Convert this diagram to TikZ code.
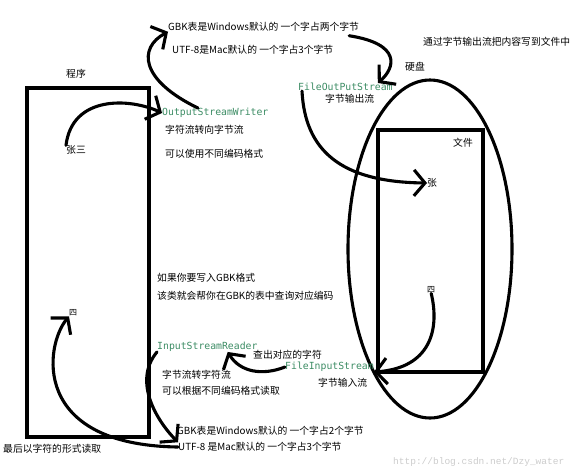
\documentclass[tikz,border=0pt]{standalone}
\usepackage{fontspec}
\setmainfont{Liberation Sans}
\newfontfamily\cjk{Noto Sans CJK SC}
\newfontfamily\codefont{DejaVu Sans Mono}
\newfontfamily\wmfont{Liberation Mono}
\usetikzlibrary{arrows.meta,shapes.geometric}
\definecolor{codegreen}{RGB}{60,140,100}
\tikzset{
  txt/.style={font=\cjk\fontsize{9.8}{11}\selectfont, inner sep=0pt, anchor=west},
  code/.style={font=\codefont\fontsize{9.8}{11}\selectfont, text=codegreen, inner sep=0pt, anchor=west},
  pen/.style={line width=3.1pt, line cap=round},
  hand/.style={pen, -{Straight Barb[length=11pt,width=26pt]}},
}
\begin{document}
\begin{tikzpicture}[x=1pt,y=-1pt]
\useasboundingbox (0,0) rectangle (572,472);
\node[draw, pen, minimum width=122pt, minimum height=349pt, inner sep=0pt] (prg) at (88,262.5) {};
\node[draw, pen, ellipse, minimum width=164pt, minimum height=338pt, inner sep=0pt] (disk) at (430,249) {};
\node[draw, pen, minimum width=105pt, minimum height=242pt, inner sep=0pt] (file) at (430.5,251) {};
\node[txt] (prog) at (66,74) {程序};
\node[txt] (zs) at (66,150) {张三};
\node[txt, font=\cjk\fontsize{8}{9}\selectfont] (si2) at (69,313) {四};
\node[code] (osw) at (162,113) {OutputStreamWriter};
\node[txt] (osw1) at (165,130) {字符流转向字节流};
\node[txt] (osw2) at (165,154) {可以使用不同编码格式};
\node[txt] (gbk) at (168,27) {GBK表是Windows默认的 一个字占两个字节};
\node[txt] (utf) at (172,50) {UTF-8是Mac默认的 一个字占3个字节};
\node[txt] (note) at (423,42) {通过字节输出流把内容写到文件中};
\node[txt] (disklbl) at (405,67) {硬盘};
\node[code] (fos) at (298,87) {FileOutPutStream};
\node[txt] (fos1) at (325,99) {字节输出流};
\node[txt] (filelbl) at (453,143) {文件};
\node[txt] (zhang) at (427,183) {张};
\node[txt, font=\cjk\fontsize{8}{9}\selectfont] (si) at (427,290) {四};
\node[txt] (gbkq1) at (157,278) {如果你要写入GBK格式};
\node[txt] (gbkq2) at (157,296) {该类就会帮你在GBK的表中查询对应编码};
\node[code] (isr) at (157,347) {InputStreamReader};
\node[txt] (isr1) at (162,375) {字节流转字符流};
\node[txt] (isr2) at (162,391) {可以根据不同编码格式读取};
\node[txt] (lookup) at (253,355) {查出对应的字符};
\node[code] (fis) at (285,367) {FileInputStream};
\node[txt] (fis1) at (318,383) {字节输入流};
\node[txt] (gbk2) at (177,431) {GBK表是Windows默认的 一个字占2个字节};
\node[txt] (utf2) at (178,447) {UTF-8 是Mac默认的 一个字占3个字节};
\node[txt] (last) at (3,449) {最后以字符的形式读取};
\node[txt, font=\wmfont\fontsize{9.5}{11}\selectfont, text=gray!40] (wm) at (393,462) {http://blog.csdn.net/Dzy\_water};
\draw[hand] (zs.north west) .. controls (72,95) and (130,98) .. (osw.west);
\draw[hand] ([xshift=36pt]osw.north west) .. controls (140,80) and (138,48) .. (gbk.south west);
\draw[hand] ([xshift=-10pt,yshift=-4pt]gbk.south east) .. controls (402,44) and (395,68) .. ([xshift=-15pt]fos.north east);
\draw[hand] ([xshift=4pt]fos.south west) .. controls (305,150) and (340,182) .. (zhang.west);
\draw[hand] (si.south) .. controls (440,330) and (430,368) .. (fis.south east);
\draw[hand] (fis.west) .. controls (262,376) and (240,372) .. ([xshift=-30pt]isr.south east);
\draw[hand] (isr.south west) .. controls (132,382) and (158,422) .. (utf2.north west);
\draw[hand] (utf2.west) .. controls (30,445) and (45,345) .. (si2.south west);
\end{tikzpicture}
\end{document}
